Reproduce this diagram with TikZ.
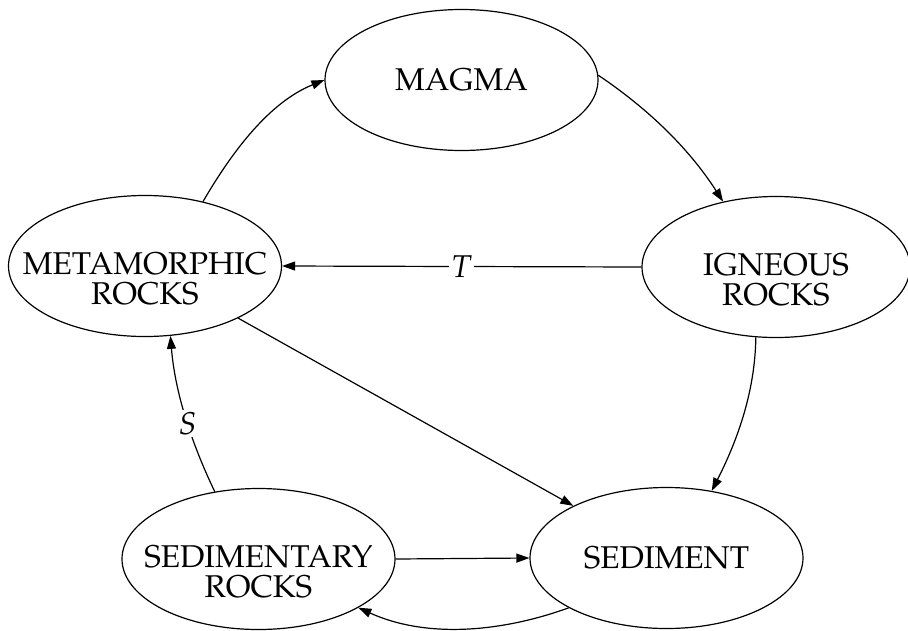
\documentclass[tikz,border=0pt]{standalone}
\usepackage[T1]{fontenc}
\usepackage{mathpazo}
\usetikzlibrary{arrows.meta,shapes.geometric}
\begin{document}
\begin{tikzpicture}[x=1pt,y=-1pt,
  every node/.style={font=\fontsize{31.5}{30}\selectfont},
  rock/.style={draw, ellipse, line width=1.2pt, inner sep=0pt, minimum width=273pt, minimum height=141pt},
  lbl/.style={align=center, inner sep=0pt},
  edge/.style={line width=1.2pt, -{Triangle[length=13pt,width=9pt]}},
  tag/.style={fill=white, inner sep=2pt}]
\useasboundingbox (0,0) rectangle (908,630);
\node[rock] (magma) at (461.5,80) {MAGMA};
\node[rock] (meta) at (145,266) {};
\node[lbl] (metaT) at ([yshift=-12.5pt]meta.center) {METAMORPHIC\\ROCKS};
\node[rock, minimum width=268pt] (ign) at (776,267) {};
\node[lbl] (ignT) at ([yshift=-12.5pt]ign.center) {IGNEOUS\\ROCKS};
\node[rock] (sedr) at (258.5,559) {};
\node[lbl] (sedrT) at ([yshift=-12.5pt]sedr.center) {SEDIMENTARY\\ROCKS};
\node[rock] (sed) at (666.5,558) {SEDIMENT};
\draw[edge] (meta.48) .. controls (233,150) and (270,102) .. (magma.180);
\draw[edge] (magma.2) .. controls (650,110) and (690,150) .. (ign.129);
\draw[edge] (ign.west) -- node[tag] (Tlab) {$T$} (meta.east);
\draw[edge] (ign.254) .. controls (755,394) and (736,443) .. (sed.56);
\draw[edge] (meta) -- (sed);
\draw[edge] (sedr.123) .. controls (191,442) and (175,392) .. node[tag,pos=0.45] (Slab) {$S$} (meta.290);
\draw[edge] (sedr.east) -- (sed.west);
\draw[edge] (sed.207) .. controls (499,633) and (425,638) .. (sedr.334.7);
\end{tikzpicture}
\end{document}
